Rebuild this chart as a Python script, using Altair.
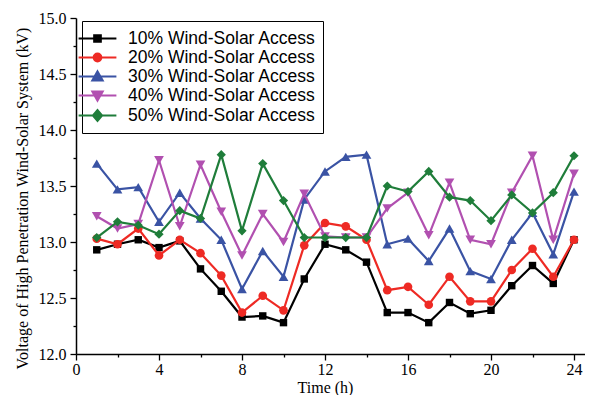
import altair as alt
import pandas as pd

hours = list(range(1, 25))
series_names = [
    "10% Wind-Solar Access",
    "20% Wind-Solar Access",
    "30% Wind-Solar Access",
    "40% Wind-Solar Access",
    "50% Wind-Solar Access",
]
v10 = [12.93, 12.98, 13.02, 12.95, 13.01, 12.76, 12.56, 12.33, 12.34, 12.28, 12.67, 12.98,
       12.93, 12.82, 12.37, 12.37, 12.28, 12.46, 12.36, 12.39, 12.61, 12.79, 12.63, 13.02]
v20 = [13.03, 12.98, 13.12, 12.88, 13.02, 12.90, 12.70, 12.37, 12.52, 12.39, 12.97, 13.17,
       13.14, 13.02, 12.57, 12.60, 12.44, 12.69, 12.47, 12.47, 12.75, 12.94, 12.69, 13.02]
v30 = [13.70, 13.47, 13.49, 13.18, 13.44, 13.21, 13.02, 12.58, 12.92, 12.69, 13.38, 13.63,
       13.76, 13.78, 12.98, 13.03, 12.83, 13.12, 12.74, 12.67, 13.02, 13.26, 12.89, 13.45]
v40 = [13.23, 13.12, 13.16, 13.73, 13.14, 13.69, 13.27, 12.88, 13.25, 13.00, 13.43, 13.05,
       13.04, 13.04, 13.30, 13.44, 13.06, 13.53, 13.02, 12.98, 13.44, 13.77, 13.02, 13.61]
v50 = [13.04, 13.18, 13.15, 13.07, 13.28, 13.21, 13.78, 13.10, 13.70, 13.37, 13.04, 13.04,
       13.04, 13.04, 13.50, 13.45, 13.63, 13.40, 13.37, 13.19, 13.42, 13.26, 13.44, 13.77]
all_values = [v10, v20, v30, v40, v50]

x_ticks = [0, 2, 4, 6, 8, 10, 12, 14, 16, 18, 20, 22, 24]
y_ticks = [12.0, 12.25, 12.5, 12.75, 13.0, 13.25, 13.5, 13.75, 14.0, 14.25, 14.5, 14.75, 15.0]

colors = ["#000000", "#ee2a24", "#3a53a4", "#b150b0", "#1f7d3a"]
shapes = ["square", "circle", "triangle-up", "triangle-down", "diamond"]
sizes = [55, 75, 95, 95, 85]

LINE = "M-2.1,0H2.1"
legend_shapes = [
    LINE + "M-0.36,-0.36H0.36V0.36H-0.36Z",
    LINE + "M0.42,0A0.42,0.42,0,1,1,-0.42,0A0.42,0.42,0,1,1,0.42,0Z",
    LINE + "M0,-0.55L0.56,0.42L-0.56,0.42Z",
    LINE + "M0,0.55L0.56,-0.42L-0.56,-0.42Z",
    LINE + "M0,-0.6L0.5,0L0,0.6L-0.5,0Z",
]

serif = "Liberation Serif"
sans = "Liberation Sans"

rows = []
for name, vals in zip(series_names, all_values):
    for h, v in zip(hours, vals):
        rows.append({"hour": h, "value": v, "series": name})
df = pd.DataFrame(rows)

x_enc = alt.X(
    "hour:Q",
    scale=alt.Scale(domain=[0, 24.53], nice=False, zero=False),
    axis=alt.Axis(
        values=x_ticks,
        labelExpr="datum.value % 4 == 0 ? datum.value : ''",
        tickSize={"condition": {"test": "datum.value % 4 != 0", "value": 3}, "value": 6},
        title="Time (h)",
        titleX=249,
        titlePadding=2,
        labelPadding=1,
        labelOverlap=False,
        labelFlush=False,
    ),
)
y_enc = alt.Y(
    "value:Q",
    scale=alt.Scale(domain=[12, 15], nice=False, zero=False),
    axis=alt.Axis(
        values=y_ticks,
        labelExpr="datum.value % 0.5 == 0 ? format(datum.value, '.1f') : ''",
        tickSize={"condition": {"test": "datum.value % 0.5 != 0", "value": 3}, "value": 6},
        title="Voltage of High Penetration Wind-Solar System (kV)",
        titleY=180,
        titlePadding=8,
        labelPadding=4,
        labelOverlap=False,
        labelFlush=False,
    ),
)

layers = []
for name, col, shp, sz in zip(series_names, colors, shapes, sizes):
    sub = df[df["series"] == name]
    base = alt.Chart(sub)
    layers.append(base.mark_line(color=col, strokeWidth=2.2).encode(x=x_enc, y=y_enc))
    layers.append(
        base.mark_point(shape=shp, filled=True, color=col, size=sz, opacity=1).encode(x=x_enc, y=y_enc)
    )

legend_layer = alt.Chart(df).mark_point(opacity=0, strokeWidth=2.2).encode(
    x=x_enc,
    y=y_enc,
    color=alt.Color(
        "series:N",
        scale=alt.Scale(domain=series_names, range=colors),
        legend=alt.Legend(
            title=None,
            orient="none",
            legendX=6,
            legendY=3,
            symbolSize=324,
            symbolStrokeWidth=2.2,
            symbolOpacity=1,
            labelFont=sans,
            labelFontSize=17.5,
            labelColor="#000000",
            labelOffset=20,
            symbolOffset=-2,
            rowPadding=0,
            padding=7,
            strokeColor="#000000",
            fillColor="#ffffff",
            cornerRadius=0,
            labelLimit=400,
        ),
    ),
    fill=alt.Fill("series:N", scale=alt.Scale(domain=series_names, range=colors), legend=alt.Legend(title=None)),
    shape=alt.Shape("series:N", scale=alt.Scale(domain=series_names, range=legend_shapes), legend=alt.Legend(title=None)),
)

chart = alt.layer(*layers, legend_layer).properties(
    width=509,
    height=336,
    background="#ffffff",
    autosize=alt.AutoSizeParams(type="none"),
    padding={"left": 68, "top": 10, "right": 0, "bottom": 41},
).configure_view(stroke=None).configure_axis(
    grid=False,
    domainColor="#000000",
    domainWidth=1.5,
    tickColor="#000000",
    tickWidth=1.3,
    labelFont=serif,
    labelFontSize=16,
    labelColor="#000000",
    titleFont=serif,
    titleFontSize=16,
    titleFontWeight="normal",
    titleColor="#000000",
).configure_legend(cornerRadius=0, strokeColor="#000000")

chart.save("out.html", embed_options={"renderer": "svg", "actions": False})
